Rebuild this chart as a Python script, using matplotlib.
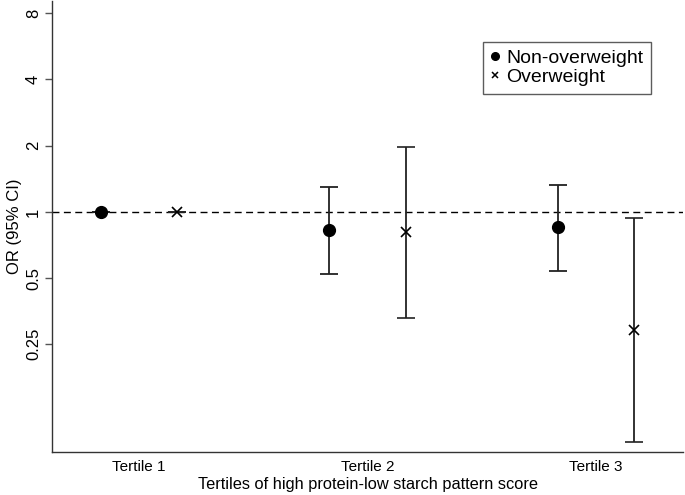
import matplotlib
matplotlib.use("Agg")
import matplotlib.pyplot as plt
from matplotlib.lines import Line2D
import numpy as np

plt.rcParams["font.family"] = ["Liberation Sans", "DejaVu Sans"]

tertiles = ["Tertile 1", "Tertile 2", "Tertile 3"]

# odds ratios and 95% CI
nonow_or = [1.0, 0.83, 0.855]
nonow_lo = [1.0, 0.52, 0.54]
nonow_hi = [1.0, 1.30, 1.33]

ow_or = [1.0, 0.81, 0.29]
ow_lo = [1.0, 0.33, 0.09]
ow_hi = [1.0, 1.97, 0.94]

x = np.arange(1, len(tertiles) + 1)
off = 0.167

fig = plt.figure(figsize=(6.85, 4.95), dpi=100)
ax = fig.add_axes([0.076, 0.087, 0.921, 0.911])

ax.axhline(1, color="black", lw=1, ls=(0, (5, 3.2)), zorder=1)

err = [np.array(nonow_or) - np.array(nonow_lo), np.array(nonow_hi) - np.array(nonow_or)]
ax.errorbar(x - off, nonow_or, yerr=err, fmt="o", color="black", ms=8.5,
            ecolor="#222222", elinewidth=1.3, capsize=6.5, capthick=1.3, zorder=3)
err = [np.array(ow_or) - np.array(ow_lo), np.array(ow_hi) - np.array(ow_or)]
ax.errorbar(x + off, ow_or, yerr=err, fmt="x", color="black", ms=7, mew=1.2,
            ecolor="#222222", elinewidth=1.3, capsize=6.5, capthick=1.3, zorder=3)

ax.set_yscale("log")
ax.set_ylim(0.081, 9.1)
ax.set_yticks([0.25, 0.5, 1, 2, 4, 8])
ax.set_yticklabels(["0.25", "0.5", "1", "2", "4", "8"], rotation=90, va="center")
ax.minorticks_off()
ax.set_xlim(0.62, 3.38)
ax.set_xticks(x)
ax.set_xticklabels(tertiles)
ax.tick_params(axis="x", labelsize=11, length=0, pad=6)
ax.tick_params(axis="y", labelsize=12, length=5, color="#555555", width=1, pad=3)

for s in ["top", "right"]:
    ax.spines[s].set_visible(False)
for s in ["left", "bottom"]:
    ax.spines[s].set_color("#333333")
    ax.spines[s].set_linewidth(1)

ax.set_xlabel("Tertiles of high protein-low starch pattern score", fontsize=11.8, labelpad=2)
ax.set_ylabel("OR (95% CI)", fontsize=12, labelpad=3)

handles = [Line2D([], [], marker="o", ls="none", color="black", ms=5.5),
           Line2D([], [], marker="x", ls="none", color="black", ms=5, mew=1.1)]
leg = ax.legend(handles, ["Non-overweight", "Overweight"], loc="upper right",
                bbox_to_anchor=(0.949, 0.909), fontsize=14, frameon=True, fancybox=False,
                edgecolor="#333333", handlelength=0.4, handletextpad=0.4,
                borderpad=0.38, labelspacing=0.08, borderaxespad=0)
leg.get_frame().set_linewidth(1)

fig.savefig("out.png", dpi=100)
